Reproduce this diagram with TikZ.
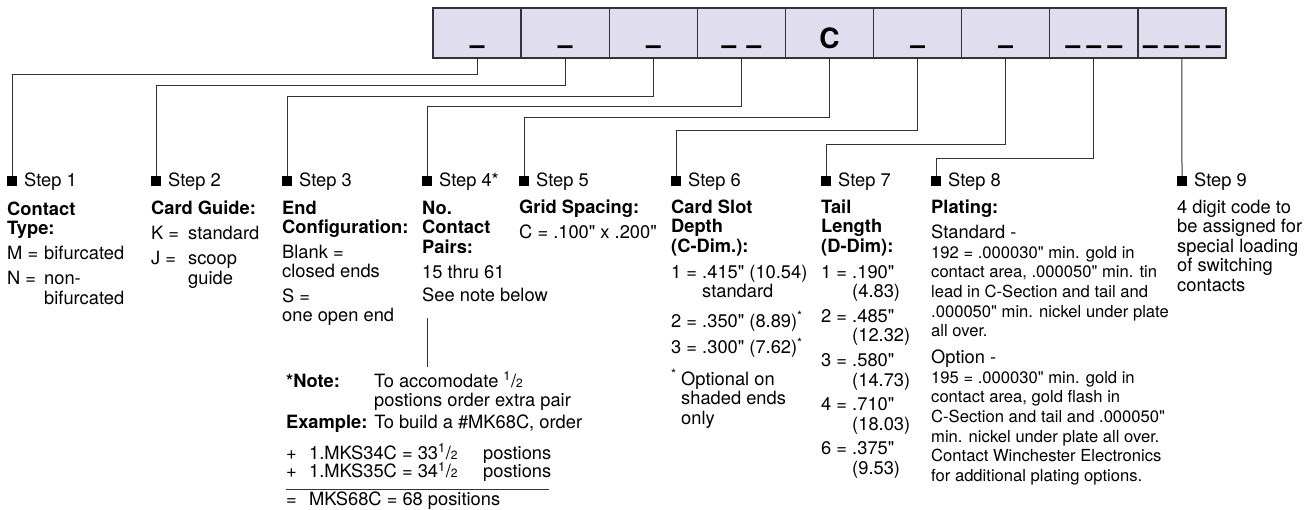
\documentclass[tikz,border=0pt]{standalone}
\usepackage{fontspec}
\setmainfont{TeX Gyre Heros}[Ligatures=TeXOff]
\newfontfamily\blankfont{DejaVu Sans}
\usepackage{tikz}
\usetikzlibrary{positioning}

\definecolor{cellfill}{HTML}{DFDDEE}
\definecolor{rulegray}{HTML}{333333}

\tikzstyle{cell}=[draw=rulegray, line width=1.4pt, fill=cellfill, minimum width=88.1pt, minimum height=50pt, inner sep=0pt]
\tikzstyle{codeblank}=[anchor=base, inner sep=0pt, font=\blankfont\bfseries\fontsize{30}{30}\selectfont]
\tikzstyle{stepmark}=[fill=black, minimum size=10pt, inner sep=0pt]
\tikzstyle{txt}=[anchor=base west, inner sep=0pt, font=\fontsize{18.3}{19.6}\selectfont]
\tikzstyle{headtxt}=[txt, font=\fontsize{18.3}{19.8}\selectfont\bfseries]
\tikzstyle{finetxt}=[txt, font=\fontsize{16.6}{19.7}\selectfont]
\tikzstyle{leadline}=[draw=rulegray, line width=1pt]

\newcommand{\rows}[1]{\begin{tabular}[t]{@{}l@{}}#1\end{tabular}}
\newcommand{\eqbox}[1]{\makebox[37pt][l]{#1}}
\newcommand{\gap}{\kern6pt}
\newcommand{\half}{\textsuperscript{1}/{\fontsize{12}{12}\selectfont 2}}

\begin{document}
\begin{tikzpicture}[x=1pt,y=-1pt]
  \useasboundingbox (0,0) rectangle (1314,509);

  % part number boxes
  \foreach \i in {1,...,9}
    \node[cell] (cell\i) at ({388.95+88.1*\i},33) {};
  \foreach \i/\t in {1/\_,2/\_,3/\_,4/\_\kern10pt\_,6/\_,7/\_,8/\_\gap\_\gap\_,9/\_\gap\_\gap\_\gap\_}
    \node[codeblank] (code\i) at ({388.95+88.1*\i},41) {\t};
  \node[anchor=base, inner sep=0pt, font=\fontsize{28}{28}\selectfont\bfseries] (code5) at (829.45,48) {C};

  % step markers
  \foreach \i/\x in {1/7,2/151,3/282,4/422,5/519,6/671,7/821,8/931,9/1177} {
    \node[stepmark] (stepmark\i) at (\x+5,181) {};
    \node[txt] (step\i) at (\x+17,186) {Step \i\ifnum\i=4 *\fi};
  }

  % leader lines
  \foreach \i/\d in {1/16,2/27,3/38,4/48,5/59,6/72,7/86,8/100}
    \draw[leadline] (cell\i.south) -- ++(0,\d) -| (stepmark\i.north);
  \draw[leadline] (cell9.south) -- (stepmark9.north);

  % step 1
  \node[headtxt] (title1) at (7,215) {\rows{Contact\\Type:}};
  \node[txt] (body1) at (7,259) {\rows{\eqbox{M =}bifurcated\\[6pt]\eqbox{N =}non-\\\eqbox{}bifurcated}};
  % step 2
  \node[headtxt] (title2) at (151,214) {Card Guide:};
  \node[txt] (body2) at (151,239) {\rows{\eqbox{K =}standard\\[6pt]\eqbox{J =}scoop\\\eqbox{}guide}};
  % step 3
  \node[headtxt] (title3) at (282,214) {\rows{End\\Configuration:}};
  \node[txt] (body3) at (282,258) {\rows{Blank =\\closed ends\\[5pt]S =\\one open end}};
  % step 4
  \node[headtxt] (title4) at (422,214) {\rows{No.\\Contact\\Pairs:}};
  \node[txt] (body4) at (422,278) {\rows{15 thru 61\\[4pt]See note below}};
  % step 5
  \node[headtxt] (title5) at (519,213) {Grid Spacing:};
  \node[txt] (body5) at (519,238) {C = .100" x .200"};
  % step 6
  \node[headtxt] (title6) at (671,213) {\rows{Card Slot\\Depth\\(C-Dim.):}};
  \node[txt] (body6) at (671,278) {\rows{1 = .415" (10.54)\\\hphantom{1 = }standard\\[8pt]2 = .350" (8.89)\textsuperscript{*}\\[5pt]3 = .300" (7.62)\textsuperscript{*}}};
  \node[txt] (foot6) at (671,385) {\rows{\makebox[10pt][l]{\textsuperscript{*}}Optional on\\\makebox[10pt]{}shaded ends\\\makebox[10pt]{}only}};
  % step 7
  \node[headtxt] (title7) at (821,213) {\rows{Tail\\Length\\(D-Dim):}};
  \node[txt] (body7) at (821,278) {\rows{1 = .190"\\\hphantom{1 = }(4.83)\\[5pt]2 = .485"\\\hphantom{1 = }(12.32)\\[5pt]3 = .580"\\\hphantom{1 = }(14.73)\\[5pt]4 = .710"\\\hphantom{1 = }(18.03)\\[5pt]6 = .375"\\\hphantom{1 = }(9.53)}};
  % step 8
  \node[headtxt] (title8) at (931,213) {Plating:};
  \node[txt] (std8) at (931,238) {Standard -};
  \node[finetxt] (stdtext8) at (931,258) {\rows{192 = .000030" min. gold in\\contact area, .000050" min. tin\\lead in C-Section and tail and\\.000050" min. nickel under plate\\all over.}};
  \node[txt] (opt8) at (931,363) {Option -};
  \node[finetxt] (opttext8) at (931,383) {\rows{195 = .000030" min. gold in\\contact area, gold flash in\\C-Section and tail and .000050"\\min. nickel under plate all over.\\Contact Winchester Electronics\\for additional plating options.}};
  % step 9
  \node[txt] (body9) at (1177,213) {\rows{4 digit code to\\be assigned for\\special loading\\of switching\\contacts}};

  % note for step 4
  \node[headtxt] (note) at (286,387) {*Note:};
  \node[txt] (notetext) at (374,387) {\rows{To accomodate \half\\postions order extra pair}};
  \coordinate (notetop) at (427,318);
  \draw[leadline, shorten >=6pt] (notetop) -- (notetop |- note.north);
  \node[txt] (example) at (286,428) {\textbf{Example:} To build a \#MK68C, order};
  \node[txt] (sums) at (286,459) {\rows{\makebox[23pt][l]{+}\makebox[174pt][l]{1.MKS34C = 33\half}postions\\[-2.6pt]\makebox[23pt][l]{+}\makebox[174pt][l]{1.MKS35C = 34\half}postions}};
  \draw[leadline] (286,489) -- (549,489);
  \node[txt] (total) at (286,505) {\makebox[23pt][l]{=}MKS68C = 68 positions};
\end{tikzpicture}
\end{document}
